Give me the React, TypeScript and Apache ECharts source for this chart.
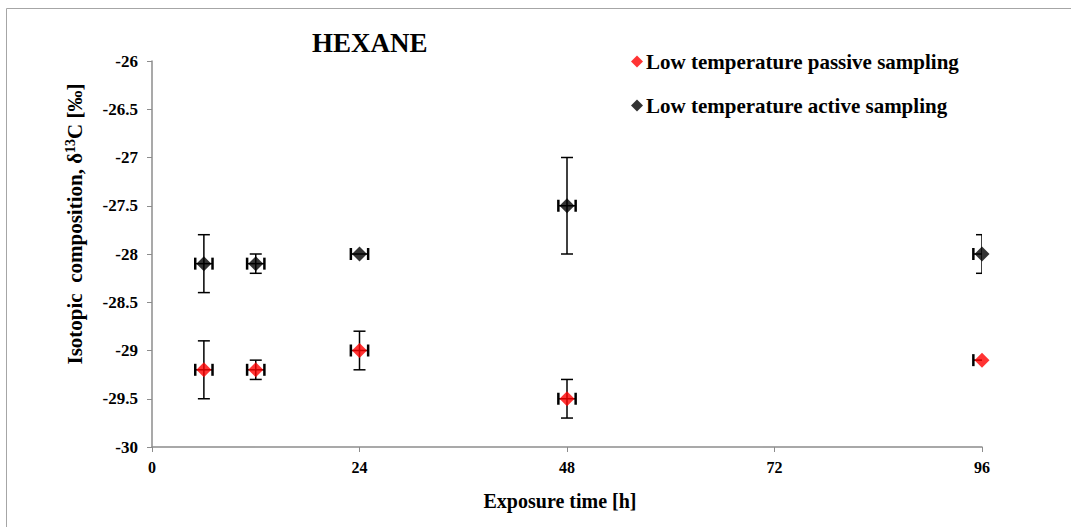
import React, { useEffect, useRef } from "react";
import * as echarts from "echarts";

const xHours = [6, 12, 24, 48, 96];
const xErrHours = [1, 1, 1, 1, 1];
const passiveValues = [-29.2, -29.2, -29.0, -29.5, -29.1];
const passiveErr = [0.3, 0.1, 0.2, 0.2, 0];
const activeValues = [-28.1, -28.1, -28.0, -27.5, -28.0];
const activeErr = [0.3, 0.1, 0, 0.5, 0.2];

const FONT = "'Liberation Serif', 'Times New Roman', serif";

function errorData(vals: number[], errs: number[]) {
  return xHours.map((x, i) => [x, vals[i], errs[i], xErrHours[i]]);
}

function renderErr(params: any, api: any) {
  const x = api.value(0);
  const y = api.value(1);
  const ye = api.value(2);
  const xe = api.value(3);
  const c = api.coord([x, y]);
  const style = { stroke: "#000", lineWidth: 1.5 };
  const capStyle = { stroke: "#000", lineWidth: 2.5 };
  const children: any[] = [];
  if (ye > 0) {
    const top = api.coord([x, y + ye]);
    const bot = api.coord([x, y - ye]);
    children.push({ type: "line", shape: { x1: c[0], y1: top[1], x2: c[0], y2: bot[1] }, style });
    children.push({ type: "line", shape: { x1: c[0] - 6, y1: top[1], x2: c[0] + 6, y2: top[1] }, style });
    children.push({ type: "line", shape: { x1: c[0] - 6, y1: bot[1], x2: c[0] + 6, y2: bot[1] }, style });
  }
  if (xe > 0) {
    const l = api.coord([x - xe, y]);
    const r = api.coord([x + xe, y]);
    children.push({ type: "line", shape: { x1: l[0], y1: c[1], x2: r[0], y2: c[1] }, style });
    children.push({ type: "line", shape: { x1: l[0], y1: c[1] - 6, x2: l[0], y2: c[1] + 6 }, style: capStyle });
    children.push({ type: "line", shape: { x1: r[0], y1: c[1] - 6, x2: r[0], y2: c[1] + 6 }, style: capStyle });
  }
  return { type: "group", children };
}

export default function App() {
  const ref = useRef<HTMLDivElement>(null);
  useEffect(() => {
    if (!ref.current) return;
    const chart = echarts.init(ref.current, null, { renderer: "svg" });
    chart.setOption({
      animation: false,
      backgroundColor: "#fff",
      title: {
        text: "HEXANE",
        left: 307,
        top: 24,
        textStyle: { fontFamily: FONT, fontWeight: "bold", fontSize: 27, color: "#000" },
      },
      legend: {
        data: ["Low temperature passive sampling", "Low temperature active sampling"],
        orient: "vertical",
        left: 626,
        top: 46,
        itemGap: 23,
        itemWidth: 12,
        itemHeight: 12,
        textStyle: { fontFamily: FONT, fontWeight: "bold", fontSize: 21, color: "#000", padding: [0, 0, 0, -2] },
      },
      graphic: [
        {
          type: "rect",
          shape: { x: 6.5, y: 8.5, width: 1080, height: 540 },
          style: { fill: "none", stroke: "#a6a6a6", lineWidth: 1 },
          silent: true,
        },
        {
          type: "text",
          x: 75,
          y: 224,
          rotation: Math.PI / 2,
          style: {
            text: "Isotopic  composition, δ{sup|13}C [‰]",
            fontFamily: FONT,
            fontWeight: "bold",
            fontSize: 21,
            fill: "#000",
            align: "center",
            verticalAlign: "middle",
            rich: {
              sup: { fontFamily: FONT, fontWeight: "bold", fontSize: 14, fill: "#000", verticalAlign: "bottom", padding: [0, 0, 9, 0] },
            },
          },
          silent: true,
        },
      ],
      grid: { left: 152, right: 89, top: 61, bottom: 80 },
      xAxis: {
        type: "value",
        min: 0,
        max: 96,
        interval: 24,
        name: "Exposure time [h]",
        nameLocation: "middle",
        nameGap: 44,
        nameTextStyle: { fontFamily: FONT, fontWeight: "bold", fontSize: 20, color: "#000", padding: [0, 14, 0, 0] },
        axisLine: { onZero: false, lineStyle: { color: "#8c8c8c", width: 1.5 } },
        axisTick: { show: true, length: 5, lineStyle: { color: "#8c8c8c" } },
        axisLabel: { fontFamily: FONT, fontWeight: "bold", fontSize: 16, color: "#000", margin: 12 },
        splitLine: { show: false },
      },
      yAxis: {
        type: "value",
        min: -30,
        max: -26,
        interval: 0.5,
        axisLine: { show: true, lineStyle: { color: "#8c8c8c", width: 1.5 } },
        axisTick: { show: true, length: 5, lineStyle: { color: "#8c8c8c" } },
        axisLabel: { fontFamily: FONT, fontWeight: "bold", fontSize: 17, color: "#000", margin: 14 },
        splitLine: { show: false },
      },
      series: [
        {
          type: "custom",
          name: "passiveErr",
          renderItem: renderErr,
          data: errorData(passiveValues, passiveErr),
          clip: true,
          z: 2,
          silent: true,
        },
        {
          type: "custom",
          name: "activeErr",
          renderItem: renderErr,
          data: errorData(activeValues, activeErr),
          clip: true,
          z: 2,
          silent: true,
        },
        {
          type: "scatter",
          name: "Low temperature passive sampling",
          symbol: "diamond",
          symbolSize: 15,
          itemStyle: { color: "#ff0000" },
          data: xHours.map((x, i) => [x, passiveValues[i]]),
          z: 5,
        },
        {
          type: "scatter",
          name: "Low temperature active sampling",
          symbol: "diamond",
          symbolSize: 15,
          itemStyle: { color: "#000000" },
          data: xHours.map((x, i) => [x, activeValues[i]]),
          z: 5,
        },
      ],
    });
    return () => chart.dispose();
  }, []);
  return <div ref={ref} style={{ position: "absolute", left: 0, top: 0, width: 1071, height: 527 }} />;
}
